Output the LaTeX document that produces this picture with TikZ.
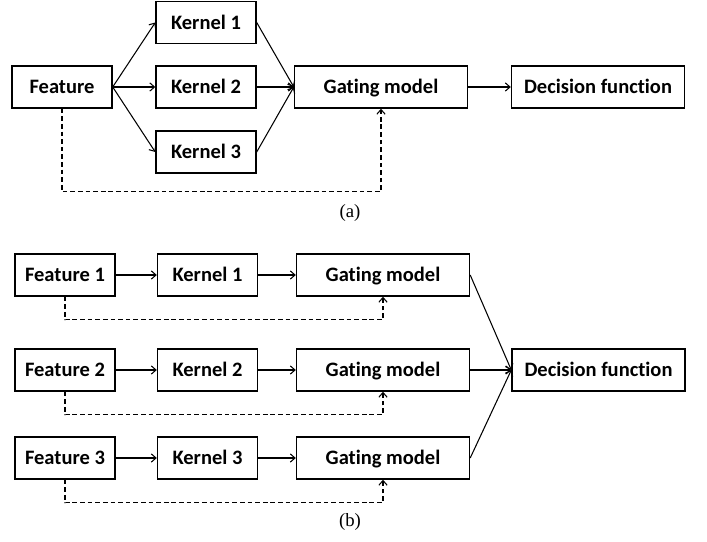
\documentclass[tikz,border=0pt]{standalone}
\usepackage{fontspec}
\setmainfont{Liberation Serif}
\newfontfamily\boxfont[Ligatures=NoCommon]{Carlito}
\usetikzlibrary{arrows.meta}
\tikzset{
  blk/.style={draw, line width=1.2pt, minimum height=1.26cm, inner sep=0pt,
    text height=12.5pt, text depth=1.3pt,
    font=\boxfont\bfseries\fontsize{17.5}{20}\selectfont},
  small/.style={blk, minimum width=3cm},
  wide/.style={blk, minimum width=5.19cm},
  flow/.style={line width=0.9pt, -{Straight Barb[length=4pt,width=7pt]}},
  skip/.style={flow, dash pattern=on 4pt off 2.5pt}
}
\begin{document}
\begin{tikzpicture}[x=0.03cm, y=-0.03cm]
  \useasboundingbox (0,0) rectangle (707,542);

  % (a) one feature, three kernels
  \node[small] (feat) at (62,87) {Feature};
  \foreach \i/\yy in {1/22.5, 2/87, 3/152} {
    \node[small] (ker\i) at (206,\yy) {Kernel \i};
  }
  \node[wide] (gate) at (381,87) {Gating model};
  \node[wide] (dec) at (598,87) {Decision function};

  \foreach \i in {1,2,3} {
    \draw[flow] (feat.east) -- (ker\i.west);
    \draw[flow] (ker\i.east) -- (gate.west);
  }
  \draw[flow] (gate) -- (dec);
  \draw[skip] (feat.south) -- ++(0,83) -| (gate.south);

  \node (capa) at (350,213) {\fontsize{16}{19}\selectfont (a)};

  % (b) one chain per feature
  \node[wide] (decb) at (598.5,370) {Decision function};
  \foreach \i/\yy in {1/275, 2/370, 3/458} {
    \node[small] (fb\i) at (65,\yy) {Feature \i};
    \node[small] (kb\i) at (207.5,\yy) {Kernel \i};
    \node[wide] (gb\i) at (383,\yy) {Gating model};
    \draw[flow] (fb\i) -- (kb\i);
    \draw[flow] (kb\i) -- (gb\i);
    \draw[flow] (gb\i.east) -- (decb.west);
    \draw[skip] (fb\i.south) -- ++(0,23) -| (gb\i.south);
  }

  \node (capb) at (350,522) {\fontsize{16}{19}\selectfont (b)};
\end{tikzpicture}
\end{document}
